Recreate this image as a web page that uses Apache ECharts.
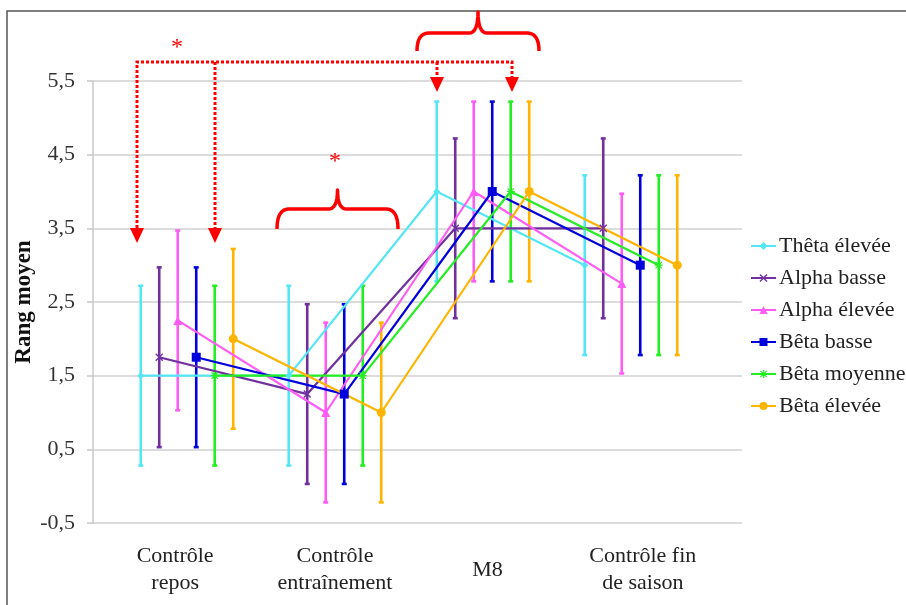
<!DOCTYPE html>
<html>
<head>
<meta charset="utf-8">
<script src="https://cdn.jsdelivr.net/npm/echarts@6/dist/echarts.min.js"></script>
<style>
  html, body { margin: 0; padding: 0; background: #fff; }
  #chart { width: 906px; height: 605px; }
</style>
</head>
<body>
<div id="chart"></div>
<script>
// catégories de l'axe X
const categories = ['Contrôle\nrepos', 'Contrôle\nentraînement', 'M8', 'Contrôle fin\nde saison'];
// position des libellés (en unités de l'axe X)
const labelX = [0.92, 2.0, 3.03, 4.08];

// rangs moyens par bande
const thetaHigh = [1.5, 1.5, 4.0, 3.0];
const alphaLow = [1.75, 1.25, 3.5, 3.5];
const alphaHigh = [2.25, 1.0, 4.0, 2.75];
const betaLow = [1.75, 1.25, 4.0, 3.0];
const betaMid = [1.5, 1.5, 4.0, 3.0];
const betaHigh = [2.0, 1.0, 4.0, 3.0];

// écarts-types (barres d'erreur)
const thetaHighErr = [1.22, 1.22, 1.22, 1.22];
const alphaLowErr = [1.22, 1.22, 1.22, 1.22];
const alphaHighErr = [1.22, 1.22, 1.22, 1.22];
const betaLowErr = [1.22, 1.22, 1.22, 1.22];
const betaMidErr = [1.22, 1.22, 1.22, 1.22];
const betaHighErr = [1.22, 1.22, 1.22, 1.22];

const yTicks = [-0.5, 0.5, 1.5, 2.5, 3.5, 4.5, 5.5];

const FONT = 'Liberation Serif';
const SYM_X = 'path://M0,1.2L1.2,0L5,3.8L8.8,0L10,1.2L6.2,5L10,8.8L8.8,10L5,6.2L1.2,10L0,8.8L3.8,5Z';
const SYM_STAR = 'path://M4.3,0H5.7V4.3H10V5.7H5.7V10H4.3V5.7H0V4.3H4.3Z M0.5,1.5L1.5,0.5L5,4L8.5,0.5L9.5,1.5L6,5L9.5,8.5L8.5,9.5L5,6L1.5,9.5L0.5,8.5L4,5Z';

const bands = [
  { name: 'Thêta élevée', mean: thetaHigh, err: thetaHighErr, color: '#55E6F6', symbol: 'diamond', size: 7 },
  { name: 'Alpha basse', mean: alphaLow, err: alphaLowErr, color: '#7030A0', symbol: SYM_X, size: 8 },
  { name: 'Alpha élevée', mean: alphaHigh, err: alphaHighErr, color: '#FF5CF5', symbol: 'triangle', size: 9 },
  { name: 'Bêta basse', mean: betaLow, err: betaLowErr, color: '#0000DC', symbol: 'rect', size: 9 },
  { name: 'Bêta moyenne', mean: betaMid, err: betaMidErr, color: '#22EE22', symbol: SYM_STAR, size: 8 },
  { name: 'Bêta élevée', mean: betaHigh, err: betaHighErr, color: '#FFB400', symbol: 'circle', size: 9 },
];

// décalage horizontal de chaque bande autour du groupe
const STEP = 0.125;

function errRender(params, api) {
  const x = api.value(0);
  const top = api.coord([x, api.value(2)]);
  const bot = api.coord([x, api.value(1)]);
  const color = api.visual('color');
  const st = { stroke: color, lineWidth: 2.6 };
  const cw = 2.5;
  return {
    type: 'group',
    children: [
      { type: 'line', shape: { x1: top[0], y1: top[1], x2: bot[0], y2: bot[1] }, style: st },
      { type: 'line', shape: { x1: top[0] - cw, y1: top[1], x2: top[0] + cw, y2: top[1] }, style: st },
      { type: 'line', shape: { x1: bot[0] - cw, y1: bot[1], x2: bot[0] + cw, y2: bot[1] }, style: st },
    ],
  };
}

const series = [];
bands.forEach((b, k) => {
  const off = (k - 2.5) * STEP;
  series.push({
    name: b.name + ' err',
    type: 'custom',
    renderItem: errRender,
    itemStyle: { color: b.color },
    encode: { x: 0, y: [1, 2] },
    data: b.mean.map((m, i) => [i + 1 + off, m - b.err[i], m + b.err[i]]),
    silent: true,
  });
  series.push({
    name: b.name,
    type: 'line',
    data: b.mean.map((m, i) => [i + 1 + off, m]),
    color: b.color,
    symbol: b.symbol,
    symbolSize: b.size,
    showSymbol: true,
    lineStyle: { width: 2.2, color: b.color },
    itemStyle: { color: b.color },
  });
});

// accolade : segments droits + courbes quadratiques échantillonnées
function quad(p0, c, p1, n) {
  const pts = [];
  for (let i = 1; i <= n; i += 1) {
    const t = i / n;
    const a = (1 - t) * (1 - t);
    const b = 2 * (1 - t) * t;
    const d = t * t;
    pts.push([a * p0[0] + b * c[0] + d * p1[0], a * p0[1] + b * c[1] + d * p1[1]]);
  }
  return pts;
}
function bracePoints(x0, x1, yTip, yMid, yEnd) {
  const cx = (x0 + x1) / 2;
  const r = 12;
  const rt = 9;
  let pts = [[x0, yEnd]];
  pts = pts.concat(quad([x0, yEnd], [x0, yMid], [x0 + r, yMid], 8));
  pts.push([cx - rt, yMid]);
  pts = pts.concat(quad([cx - rt, yMid], [cx, yMid], [cx, yTip], 8));
  pts = pts.concat(quad([cx, yTip], [cx, yMid], [cx + rt, yMid], 8));
  pts.push([x1 - r, yMid]);
  pts = pts.concat(quad([x1 - r, yMid], [x1, yMid], [x1, yEnd], 8));
  return pts;
}

function arrowHead(cx, yTop) {
  return {
    type: 'polygon',
    shape: { points: [[cx - 7, yTop], [cx + 7, yTop], [cx, yTop + 15]] },
    style: { fill: '#FF0000' },
    z: 100,
  };
}

const RED = '#FF0000';
const dotted = { stroke: RED, lineWidth: 3, lineDash: [3, 2], fill: null };
const solidRed = { stroke: RED, lineWidth: 3.5, fill: null, lineJoin: 'round' };

const chart = echarts.init(document.getElementById('chart'));
chart.setOption({
  animation: false,
  backgroundColor: '#fff',
  grid: { left: 93, right: 164, top: 81, bottom: 82, containLabel: false, outerBoundsMode: 'none' },
  legend: {
    orient: 'vertical',
    left: 750,
    top: 235,
    padding: 0,
    itemWidth: 25,
    itemHeight: 10,
    itemGap: 10,
    data: bands.map((b) => b.name),
    textStyle: { fontFamily: FONT, fontSize: 22, color: '#222', lineHeight: 22, padding: [0, 0, 0, -2] },
  },
  xAxis: {
    type: 'value',
    min: 0.365,
    max: 4.75,
    axisLine: { show: false },
    axisTick: { show: false },
    splitLine: { show: false },
    axisLabel: {
      customValues: labelX,
      formatter: (v) => {
        let best = 0;
        labelX.forEach((p, i) => { if (Math.abs(p - v) < Math.abs(labelX[best] - v)) best = i; });
        return categories[best];
      },
      fontFamily: FONT,
      fontSize: 22,
      color: '#222',
      lineHeight: 27,
      verticalAlign: 'middle',
      margin: 47,
    },
  },
  yAxis: {
    type: 'value',
    min: -0.5,
    max: 5.5,
    name: 'Rang moyen',
    nameLocation: 'middle',
    nameRotate: 90,
    nameGap: 57,
    nameMoveOverlap: false,
    nameTextStyle: { fontFamily: FONT, fontSize: 23, fontWeight: 'bold', color: '#111' },
    axisLine: { show: true, lineStyle: { color: '#c8c8c8', width: 1.5 } },
    axisTick: { show: true, length: 6, customValues: yTicks, lineStyle: { color: '#c8c8c8', width: 1.5 } },
    splitLine: { show: true, lineStyle: { color: '#d0d0d0', width: 1.5 } },
    axisLabel: {
      customValues: yTicks,
      formatter: (v) => v.toFixed(1).replace('.', ','),
      fontFamily: FONT,
      fontSize: 22,
      color: '#333',
      margin: 18,
    },
  },
  series,
  graphic: [
    { type: 'rect', shape: { x: 7, y: 11, width: 920, height: 620 }, style: { fill: null, stroke: '#555', lineWidth: 1.5 }, z: 100 },
    // significativité repos vs M8
    { type: 'polyline', shape: { points: [[137, 228], [137, 62], [512, 62], [512, 77]] }, style: dotted, z: 100 },
    { type: 'polyline', shape: { points: [[215, 62], [215, 228]] }, style: dotted, z: 100 },
    { type: 'polyline', shape: { points: [[437, 62], [437, 77]] }, style: dotted, z: 100 },
    arrowHead(137, 228),
    arrowHead(215, 228),
    arrowHead(437, 77),
    arrowHead(512, 77),
    { type: 'text', style: { text: '*', x: 177, y: 48, fill: RED, font: `24px "${FONT}"`, align: 'center', verticalAlign: 'middle' }, z: 100 },
    { type: 'polyline', shape: { points: bracePoints(417, 539, 12, 33, 51) }, style: solidRed, z: 100 },
    { type: 'polyline', shape: { points: bracePoints(277, 398, 190, 209, 229) }, style: solidRed, z: 100 },
    { type: 'text', style: { text: '*', x: 335, y: 162, fill: RED, font: `24px "${FONT}"`, align: 'center', verticalAlign: 'middle' }, z: 100 },
  ],
});
</script>
</body>
</html>
